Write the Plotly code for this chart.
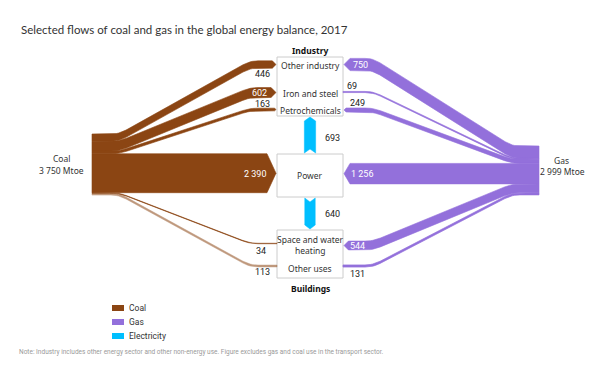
import math
import plotly.graph_objects as go

# ---------------- data ----------------
title = "Selected flows of coal and gas in the global energy balance, 2017"
targets = ["Other industry", "Iron and steel", "Petrochemicals", "Power",
           "Space and water heating", "Other uses"]
coal_values = [446, 602, 163, 2390, 34, 113]
gas_values = [750, 69, 249, 1256, 544, 131]
elec_flows = ["Power to Industry", "Power to Buildings"]
elec_values = [693, 640]
coal_total = 3750
gas_total = 2999
legend_items = ["Coal", "Gas", "Electricity"]
note = ("Note: Industry includes other energy sector and other non-energy use. "
        "Figure excludes gas and coal use in the transport sector.")

# ---------------- styles / layout ----------------
COAL = "#8B4513"
GAS = "#9370DB"
ELEC = "#00BFFF"
colors = [COAL, GAS, ELEC]
coal_opac = [1, 1, 1, 1, 1, 0.55]
K = 0.0163  # px per Mtoe

COAL_X0, COAL_X1, COAL_TOP = 92, 119, 134
GAS_X0, GAS_X1, GAS_TOP = 512, 539, 146
COAL_BEND, GAS_BEND = 250, 373
COAL_TIP, GAS_TIP = 276, 344
BOX_L, BOX_R = 277, 343
IND_BOX = (57, 116)
POW_BOX = (154, 197)
BLD_BOX = (230, 278)
coal_ty = [64.5, 92.5, 109.5, None, 243.5, 266]
gas_ty = [64.5, 92, 110, None, 245.5, 266]
R = 8  # corner rounding radius


def fmt(v):
    return f"{v:,}".replace(",", " ")


def round_corners(xs, ys, idx, r=R, n=6):
    out_x, out_y = [], []
    m = len(xs)
    for i in range(m):
        if i in idx:
            px, py = xs[i], ys[i]
            ax, ay = xs[i - 1], ys[i - 1]
            bx, by = xs[(i + 1) % m], ys[(i + 1) % m]
            da = math.hypot(ax - px, ay - py)
            db = math.hypot(bx - px, by - py)
            ra, rb = min(r, da / 2), min(r, db / 2)
            p0 = (px + (ax - px) * ra / da, py + (ay - py) * ra / da)
            p2 = (px + (bx - px) * rb / db, py + (by - py) * rb / db)
            for k in range(n + 1):
                t = k / n
                out_x.append((1 - t) ** 2 * p0[0] + 2 * (1 - t) * t * px + t * t * p2[0])
                out_y.append((1 - t) ** 2 * p0[1] + 2 * (1 - t) * t * py + t * t * p2[1])
        else:
            out_x.append(xs[i])
            out_y.append(ys[i])
    return out_x, out_y


fig = go.Figure()


def add_poly(xs, ys, color, opacity=1.0, lw=0.8):
    fig.add_trace(go.Scatter(x=xs + [xs[0]], y=ys + [ys[0]], mode="lines",
                             fill="toself", fillcolor=color,
                             line=dict(color=color, width=lw),
                             opacity=opacity, hoverinfo="skip",
                             showlegend=False))


# coal ribbons
y = COAL_TOP
for i, v in enumerate(coal_values):
    h = v * K
    s0, s1 = y, y + h
    y = s1
    if coal_ty[i] is None:
        ty = (s0 + s1) / 2
        L = min(h / 2, 9)
        xs = [COAL_X0, COAL_TIP - L, COAL_TIP, COAL_TIP - L, COAL_X0]
        ys = [s0, s0, ty, s1, s1]
    else:
        ty = coal_ty[i]
        t0, t1 = ty - h / 2, ty + h / 2
        if h >= 2.5:
            L = min(h / 2, 9)
            xs = [COAL_X0, COAL_X1, COAL_BEND, COAL_TIP - L, COAL_TIP,
                  COAL_TIP - L, COAL_BEND, COAL_X1, COAL_X0]
            ys = [s0, s0, t0, t0, ty, t1, t1, s1, s1]
            xs, ys = round_corners(xs, ys, {1, 2, 6, 7})
        else:
            xs = [COAL_X0, COAL_X1, COAL_BEND, BOX_L, BOX_L, COAL_BEND,
                  COAL_X1, COAL_X0]
            ys = [s0, s0, t0, t0, t1, t1, s1, s1]
            xs, ys = round_corners(xs, ys, {1, 2, 5, 6})
    add_poly(xs, ys, COAL, coal_opac[i], 0.5 if h < 2.5 else 0.6)

# gas ribbons
y = GAS_TOP
for i, v in enumerate(gas_values):
    h = v * K
    s0, s1 = y, y + h
    y = s1
    if gas_ty[i] is None:
        ty = (s0 + s1) / 2
        L = min(h / 2, 6)
        xs = [GAS_X1, GAS_TIP + L, GAS_TIP, GAS_TIP + L, GAS_X1]
        ys = [s0, s0, ty, s1, s1]
    else:
        ty = gas_ty[i]
        t0, t1 = ty - h / 2, ty + h / 2
        if h >= 2.5:
            L = min(h / 2, 6)
            xs = [GAS_X1, GAS_X0, GAS_BEND, GAS_TIP + L, GAS_TIP,
                  GAS_TIP + L, GAS_BEND, GAS_X0, GAS_X1]
            ys = [s0, s0, t0, t0, ty, t1, t1, s1, s1]
            xs, ys = round_corners(xs, ys, {1, 2, 6, 7})
        else:
            xs = [GAS_X1, GAS_X0, GAS_BEND, BOX_R, BOX_R, GAS_BEND,
                  GAS_X0, GAS_X1]
            ys = [s0, s0, t0, t0, t1, t1, s1, s1]
            xs, ys = round_corners(xs, ys, {1, 2, 5, 6})
    add_poly(xs, ys, GAS, 1.0, 0.7 if h < 2.5 else 0.6)

# electricity arrows
CX = 310
w = elec_values[0] * K
y_bot, y_top = POW_BOX[0] - 1, IND_BOX[1] + 1
add_poly([CX - w / 2, CX - w / 2, CX, CX + w / 2, CX + w / 2, CX],
         [y_bot, y_top + 4, y_top, y_top + 4, y_bot, y_bot - 4], ELEC, 1, 0.5)
w = elec_values[1] * K
y_t, y_b = POW_BOX[1] + 1, BLD_BOX[0] - 1
add_poly([CX - w / 2, CX, CX + w / 2, CX + w / 2, CX, CX - w / 2],
         [y_t, y_t + 4, y_t, y_b - 4, y_b, y_b - 4], ELEC, 1, 0.5)

for (t, b) in [IND_BOX, POW_BOX, BLD_BOX]:
    fig.add_shape(type="rect", x0=BOX_L, x1=BOX_R, y0=t, y1=b,
                  line=dict(color="#cccccc", width=1), fillcolor="white",
                  layer="below")

ann = []
NUMF = dict(family="Roboto, Arial, sans-serif", size=9)
LBLF = dict(family="Noto Sans, Open Sans, sans-serif", size=8.5, color="#333333")


def txt(x, y, s, font, anchor="center"):
    ann.append(dict(x=x, y=y, text=s, showarrow=False, font=font,
                    xanchor=anchor, yanchor="middle", xref="x", yref="y"))


white = dict(NUMF, color="white")
black = dict(NUMF, color="#222222")
coal_pos = [(262, 74, black), (259, 92.5, white), (262, 103.5, black),
            (255, 174, white), (261, 250.5, black), (262, 271.5, black)]
for v, (x, yy, f) in zip(coal_values, coal_pos):
    txt(x, yy, fmt(v), f)
gas_pos = [(360, 64.5, white), (352, 85.5, black), (357, 103, black),
           (362, 174, white), (357, 245.5, white), (357, 274, black)]
for v, (x, yy, f) in zip(gas_values, gas_pos):
    txt(x, yy, fmt(v), f)
txt(332, 138, fmt(elec_values[0]), black)
txt(332, 214, fmt(elec_values[1]), black)

bold = dict(family="Noto Sans, Open Sans, sans-serif", size=8.5, color="#111111")
txt(310, 50.5, "<b>Industry</b>", bold)
txt(310, 288, "<b>Buildings</b>", bold)
txt(310, 65, targets[0], LBLF)
txt(310, 93, targets[1], LBLF)
txt(310, 110, targets[2], LBLF)
txt(310, 175, targets[3], LBLF)
txt(310, 239, "Space and water", LBLF)
txt(310, 250.5, "heating", LBLF)
txt(310, 268, targets[5], LBLF)
txt(61, 158.5, "Coal", LBLF)
txt(61, 170, fmt(coal_total) + " Mtoe", LBLF)
txt(561, 160, "Gas", LBLF)
txt(562, 171.5, fmt(gas_total) + " Mtoe", LBLF)

ann.append(dict(x=19, y=29, text=title, showarrow=False, xref="x", yref="y",
                xanchor="left", yanchor="middle",
                font=dict(family="Lato, sans-serif", size=11.5, color="#333333")))
ann.append(dict(x=17, y=352, text=note, showarrow=False, xref="x", yref="y",
                xanchor="left", yanchor="middle",
                font=dict(family="Roboto, sans-serif", size=6.5, color="#9a9a9a")))

for i, (name, c) in enumerate(zip(legend_items, colors)):
    yc = 308 + 14 * i
    fig.add_shape(type="rect", x0=112, x1=124, y0=yc - 3, y1=yc + 3,
                  fillcolor=c, line=dict(width=0))
    txt(127, yc, name, dict(family="Roboto, sans-serif", size=8.5, color="#333333"),
        anchor="left")

fig.update_layout(
    width=600, height=366,
    margin=dict(l=0, r=0, t=0, b=0),
    paper_bgcolor="white", plot_bgcolor="white",
    xaxis=dict(range=[0, 600], visible=False, fixedrange=True),
    yaxis=dict(range=[366, 0], visible=False, fixedrange=True),
    annotations=ann,
    showlegend=False,
)
fig.write_html("out.html", config={"displayModeBar": False},
               post_script="document.body.style.margin='0';")
